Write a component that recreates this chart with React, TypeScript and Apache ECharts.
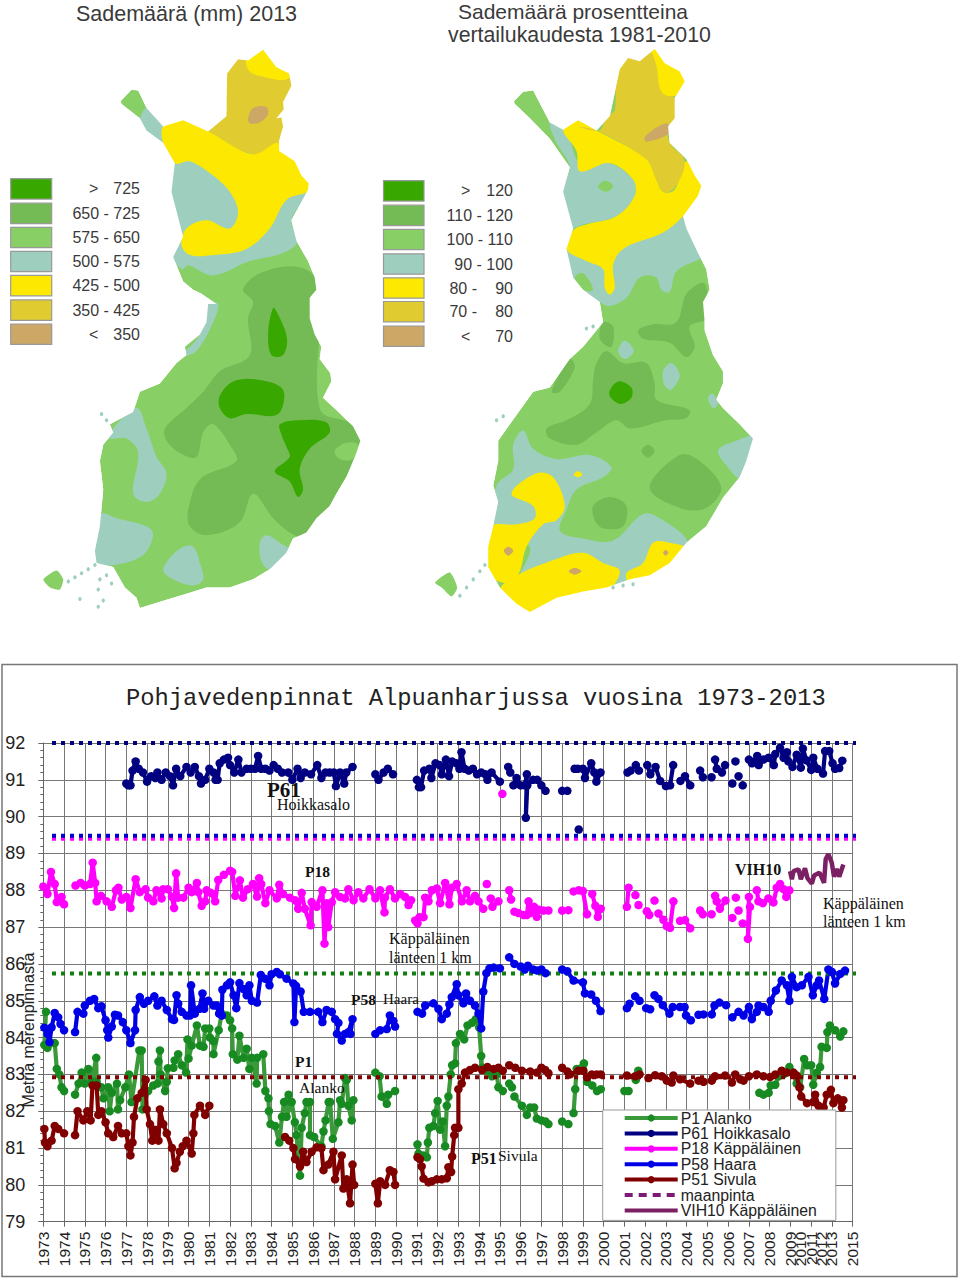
import React, { useEffect, useRef } from "react";
import * as echarts from "echarts";

type Pair = [number, number];
type Seg = Pair[];

const yearLabels = ["1973","1974","1975","1976","1977","1978","1979","1980","1981","1982","1983","1984","1985","1986","1987","1988","1989","1990","1991","1992","1993","1994","1995","1996","1997","1998","1999","2000","2001","2002","2003","2004","2005","2006","2007","2008","2009","2010","2011","2012","2013","2014","2015"];

const p1: Seg[] = [
  [[1973.13,84.7],[1973.05,83.8],[1973.2,83.72],[1973.55,83.85],[1973.65,83.15],[1973.77,83],[1973.88,82.65],[1974,82.55]],
  [[1974.53,82.45],[1974.7,82.75],[1974.85,83.05],[1975,82.75],[1975.17,83.15],[1975.33,82.8],[1975.55,83.45],[1975.57,82.8],[1975.8,82.65],[1975.9,82.35],[1976.13,82.65],[1976.2,82],[1976.3,82.5],[1976.55,82.75],[1976.6,82.05],[1976.7,82.3],[1976.95,82.65],[1977.13,83],[1977.25,82.25],[1977.63,83.65],[1977.74,83.65],[1977.78,82.05],[1978.05,82.55],[1978.3,82.7],[1978.5,82.75],[1978.55,83.35],[1978.62,83.65],[1978.65,83],[1978.87,82.55],[1978.95,82.8],[1979,83.17],[1979.27,83.18],[1979.33,83.38],[1979.5,83.55],[1979.67,83.25],[1979.88,83.05],[1979.95,83.95],[1980,83.43],[1980.15,83.78],[1980.4,84.33],[1980.55,83.78],[1980.72,83.75],[1980.8,84.25],[1981,84.25],[1981.03,84],[1981.2,83.9],[1981.2,83.55],[1981.45,84.2],[1981.6,84.65],[1981.85,84.6],[1982,84.47],[1982.1,84.25],[1982.13,83.55],[1982.35,83.4],[1982.45,84.05],[1982.65,83.45],[1982.8,83.7],[1982.93,83.15],[1983.05,83.45],[1983.28,82.75],[1983.3,83.45],[1983.6,83.55],[1983.7,82.55],[1983.85,82.35],[1983.87,82],[1983.95,81.65],[1984.17,81.6],[1984.37,81.15],[1984.5,81.85],[1984.6,82.25],[1984.82,82.45],[1984.72,81.85],[1984.97,82.25],[1985.12,81.7],[1985.2,81.35],[1985.37,80.25],[1985.45,81.55],[1985.6,81.95],[1985.68,82.25],[1985.85,82.25],[1985.85,81.35],[1986.05,81.3],[1986.4,81.05],[1986.5,81.45],[1986.6,81.75],[1986.75,82.25],[1986.82,82.25],[1986.95,81.25],[1987.22,81.7],[1987.3,82.3],[1987.38,82.2],[1987.54,82.9],[1987.62,82.85],[1987.7,82.15],[1987.86,81.75],[1987.94,82.3]],
  [[1989,83.05],[1989.2,82.95],[1989.3,82.4],[1989.55,82.2],[1989.62,82.45],[1989.95,82.55]],
  [[1991.03,81.1],[1991.08,80.85],[1991.32,80.8],[1991.48,80.75],[1991.53,81.15],[1991.6,81.55],[1991.8,81.6],[1991.88,81.95],[1992,82.28],[1992.12,81.5],[1992.24,81.72],[1992.36,81.05],[1992.44,82.15],[1992.52,82.4],[1992.63,83],[1992.7,83.25],[1992.84,83.3],[1992.88,83.85],[1993.08,84.1],[1993.28,83.95],[1993.44,84.33],[1993.65,84.4],[1993.84,84.5],[1994,84.28],[1994.1,83.5],[1994.14,83.18],[1994.37,83.1],[1994.62,82.95],[1994.85,83],[1994.93,82.65],[1995.14,82.55]],
  [[1995.45,82.75],[1995.58,82.65]],
  [[1995.7,82.4],[1996.06,82.15],[1996.3,81.9],[1996.46,82.1],[1996.65,82.1],[1996.78,81.8],[1997,81.75],[1997.2,81.72],[1997.34,81.65]],
  [[1998,81.72],[1998.3,81.65]],
  [[1998.55,81.95],[1998.63,82.6],[1998.7,83.15],[1999.05,83.3],[1999.2,82.8],[1999.45,82.7],[1999.68,82.55],[1999.86,82.6]],
  [[2001,82.55],[2001.2,82.55]],
  [[2001.55,82.85],[2001.67,83.1]],
  [[2007.5,82.5],[2007.7,82.45],[2007.95,82.5],[2008.05,82.7],[2008.27,82.72],[2008.43,82.95],[2008.67,83],[2008.95,83.2],[2009.15,83],[2009.3,82.75],[2009.47,82.65],[2009.66,83.42],[2009.8,83.25],[2010,83.25],[2010.1,82.72],[2010.27,83.05],[2010.43,83.2],[2010.5,83.75],[2010.75,83.72],[2010.78,84.15],[2010.9,84.33],[2011.15,84.2],[2011.4,84.03],[2011.55,84.17]],
];

const p61: Seg[] = [
  [[1977,90.9],[1977.1,90.85],[1977.2,90.85],[1977.3,91.25],[1977.45,91.5],[1977.6,91.3],[1977.8,91.2],[1978,90.95],[1978.2,91.1],[1978.4,91.05],[1978.5,91.2],[1978.7,91],[1978.9,91.2],[1979.1,91.1],[1979.25,90.85],[1979.4,91.3],[1979.6,91.1],[1979.9,91.35],[1980.1,91.2],[1980.3,91.35],[1980.5,91.1],[1980.6,90.9],[1980.8,91],[1981,91.3],[1981.2,91.2],[1981.3,91],[1981.4,91],[1981.5,91.45],[1981.7,91.55],[1981.9,91.6],[1982,91.4],[1982.2,91.2],[1982.4,91.55],[1982.55,91.2],[1982.8,91.3],[1983,91.3],[1983.2,91.3],[1983.35,91.65],[1983.5,91.3],[1983.7,91.3],[1983.9,91.25],[1984.1,91.4],[1984.3,91.3],[1984.5,91.2],[1984.8,91.2],[1985,91],[1985.25,91.3],[1985.4,91.05],[1985.6,91.2],[1985.9,91.15],[1986.2,91.4],[1986.4,91.05],[1986.6,91.2],[1986.8,91.2],[1987,91.2],[1987.1,90.83],[1987.3,91.2],[1987.5,90.9],[1987.6,91.2],[1987.9,91.35]],
  [[1989,91.15],[1989.15,91],[1989.4,91.2],[1989.6,91.3],[1989.85,91.15]],
  [[1991,91],[1991.1,90.8],[1991.2,90.8],[1991.35,91.25],[1991.6,91.3],[1991.7,91.05],[1991.9,91.45],[1992.1,91.4],[1992.2,91.15],[1992.4,91.55],[1992.55,91.1],[1992.7,91.5],[1992.9,91.45],[1993.05,91.3],[1993.15,91.75],[1993.3,91.3],[1993.5,91.25],[1993.7,91.3],[1993.9,91.15],[1994.1,91.2],[1994.3,91.15],[1994.4,91],[1994.6,91.2],[1995,90.95]],
  [[1995.4,91.35],[1995.5,91.2]],
  [[1995.65,90.85],[1995.8,91.05],[1996,90.85],[1996.2,90.85],[1996.3,91.15],[1996.25,89.97],[1996.32,90.85],[1996.6,91],[1996.8,91],[1997,90.85],[1997.2,90.7]],
  [[1998,90.7],[1998.25,90.7]],
  [[1998.6,91.3],[1998.75,91.3]],
  [[1998.8,89.65]],
  [[1999,91.3],[1999.1,91.05],[1999.4,91.45],[1999.55,91.2],[1999.65,90.95],[1999.85,91.2]],
  [[2001.15,91.2],[2001.3,91.25]],
  [[2001.55,91.4],[2001.7,91.25]],
  [[2002.1,91.4],[2002.25,91.15],[2002.5,91.35],[2002.72,90.97],[2003,90.83],[2003.2,90.85],[2003.35,91.4]],
  [[2003.7,90.97],[2003.92,91.1],[2004.17,90.85]],
  [[2004.65,91.25],[2004.78,91.07]],
  [[2005.2,91.07]],
  [[2005.37,91.55],[2005.45,91.3],[2005.7,91.2],[2005.85,91.4]],
  [[2006.2,90.9]],
  [[2006.35,91.5]],
  [[2006.5,91.1]],
  [[2006.7,90.85]],
  [[2007,91.55],[2007.15,91.45],[2007.4,91.65],[2007.47,91.4],[2007.7,91.55],[2007.95,91.6],[2008.2,91.4],[2008.27,91.7],[2008.5,91.87],[2008.67,91.6],[2008.83,91.75],[2008.9,91.5],[2009.1,91.35],[2009.3,91.68],[2009.5,91.33],[2009.6,91.85],[2009.77,91.53],[2010,91.27],[2010.1,91.6],[2010.3,91.3],[2010.57,91.17],[2010.67,91.78],[2010.87,91.78],[2011.03,91.45],[2011.15,91.3],[2011.35,91.32],[2011.5,91.52]],
];

const p18: Seg[] = [
  [[1973,88.1],[1973.2,87.9],[1973.37,88.5],[1973.55,88.17],[1973.65,87.68],[1973.88,87.82],[1974,87.62]],
  [[1974.55,88.13],[1974.8,88.2],[1975,88.13],[1975.25,88.17],[1975.38,88.75],[1975.5,88.2],[1975.57,87.7],[1975.78,87.85],[1976.05,87.7],[1976.3,87.55],[1976.5,88],[1976.62,88.07],[1976.78,87.75],[1977,87.82],[1977.2,87.52],[1977.45,88.3],[1977.65,87.95],[1977.93,88.03],[1978.05,87.8],[1978.3,87.7],[1978.45,88],[1978.7,87.78],[1978.78,88.03],[1979,88.03],[1979.2,87.82],[1979.3,87.52],[1979.4,88.46],[1979.5,87.8],[1979.75,87.8],[1980,88.07],[1980.15,87.95],[1980.4,88.2],[1980.47,87.95],[1980.63,87.58],[1980.8,87.7],[1980.87,88],[1981.07,87.93],[1981.28,87.7],[1981.43,88.28],[1981.7,88.42],[1982,88.53],[1982.1,88.5],[1982.25,87.85],[1982.47,88.27],[1982.62,87.8],[1982.85,88.03],[1983.1,88.17],[1983.3,87.83],[1983.4,88.33],[1983.5,88.17],[1983.7,87.65],[1983.9,88],[1984.25,87.78],[1984.37,88.15],[1984.55,87.9],[1984.88,87.8],[1985.13,87.73],[1985.28,87.5],[1985.45,87.93],[1985.6,87.5],[1985.88,87.05],[1985.93,87.68],[1986.17,87.55],[1986.45,88],[1986.55,86.55],[1986.65,87.65],[1986.73,87],[1986.9,87.68],[1987.06,87.95],[1987.3,87.82],[1987.54,87.78],[1987.7,88.03],[1987.95,87.73],[1988.18,87.95],[1988.42,87.78],[1988.72,88.03],[1989,87.78],[1989.23,88],[1989.44,87.4],[1989.46,87.8],[1989.7,88.03],[1989.95,87.78],[1990.2,87.9],[1990.43,87.82],[1990.6,87.6],[1990.72,87.73]],
  [[1990.92,87.18],[1991.03,87.1],[1991.13,87.27],[1991.32,87.27],[1991.4,87.8],[1991.56,87.7],[1991.72,88],[1991.96,88.05],[1992.12,87.65],[1992.36,88.2],[1992.57,87.62],[1992.68,88.07],[1992.92,88.17],[1993.17,87.7],[1993.4,88],[1993.56,87.7],[1993.8,87.85],[1993.97,87.7],[1994.2,87.5]],
  [[1994.37,88.17]],
  [[1994.56,87.78],[1994.64,87.55],[1994.93,87.7]],
  [[1995.12,90.62]],
  [[1995.45,88],[1995.54,87.75]],
  [[1995.7,87.42],[1995.9,87.38],[1996.14,87.33],[1996.3,87.33],[1996.38,87.7],[1996.46,87.38],[1996.65,87.55],[1996.78,87.28],[1996.9,87.47],[1997.1,87.45],[1997.34,87.45]],
  [[1998,87.45],[1998.3,87.46]],
  [[1998.55,87.97],[1998.8,88],[1999,87.98],[1999.2,87.35]],
  [[1999.45,87.9],[1999.6,87.58],[1999.72,87.28],[1999.86,87.5]],
  [[2001.12,87.55],[2001.2,88.07]],
  [[2001.53,87.87]],
  [[2001.68,87.6]],
  [[2002.08,87.43],[2002.2,87.33]],
  [[2002.45,87.72]],
  [[2002.64,87.37],[2002.88,87.2],[2003.04,87.03],[2003.2,86.98],[2003.36,87.7]],
  [[2003.68,87.17],[2003.92,87.19],[2004.17,86.97]],
  [[2004.65,87.45],[2004.78,87.35]],
  [[2005.2,87.35]],
  [[2005.37,87.85],[2005.45,87.7],[2005.6,87.5],[2005.87,87.72]],
  [[2006.2,87.25]],
  [[2006.37,87.8]],
  [[2006.5,87.45]],
  [[2006.7,87.1]],
  [[2007,87.82],[2006.95,86.68],[2007.05,87.55]],
  [[2007.38,88],[2007.46,87.7],[2007.67,87.65],[2007.94,87.78],[2008.18,87.67],[2008.34,88.07],[2008.5,88.17],[2008.67,88.03],[2008.8,87.82],[2008.95,88]],
];

const p58: Seg[] = [
  [[1973.05,84.27],[1973.2,84.1],[1973.3,83.88],[1973.4,84.28],[1973.55,84.67],[1973.72,84.55],[1973.83,84.37],[1974,84.2]],
  [[1974.53,84.15],[1974.65,84.7],[1974.93,84.65],[1975,84.87],[1975.25,85],[1975.45,85.05],[1975.65,84.8],[1975.8,84.85],[1976,84.47],[1976.08,84.2],[1976.13,84],[1976.3,84.3],[1976.45,84.62],[1976.6,84.6],[1976.83,84.42],[1977,84.2],[1977.2,83.85],[1977.42,84.2],[1977.45,84.75],[1977.65,85.1],[1977.85,84.92],[1978.05,85],[1978.35,85.12],[1978.5,84.87],[1978.7,85],[1978.95,84.75],[1979.2,84.5],[1979.3,84.48],[1979.42,85.15],[1979.5,84.92],[1979.67,84.7],[1979.9,84.6],[1980.07,84.6],[1980.12,85.42],[1980.3,84.65],[1980.52,84.78],[1980.67,85.2],[1980.75,84.78],[1980.95,85],[1981.2,84.87],[1981.35,84.87],[1981.47,84.65],[1981.6,84.6],[1981.63,85.3],[1981.85,85.42],[1982,85.5],[1982.17,85.15],[1982.3,84.8],[1982.45,85.48],[1982.65,85.32],[1982.8,85.15],[1982.93,85.42],[1983.05,85],[1983.3,84.95],[1983.48,85.7],[1983.68,85.6],[1983.9,85.42],[1984,85.72],[1984.25,85.78],[1984.4,85.72],[1984.72,85.6],[1985.05,85.47],[1985.1,84.42],[1985.18,85.4],[1985.4,85.25],[1985.55,84.7],[1985.85,84.7],[1986.25,84.7],[1986.45,84.42],[1986.65,84.75],[1986.9,84.7],[1987.06,84.5],[1987.22,84.4],[1987.15,84.1],[1987.38,83.92],[1987.54,84.1],[1987.7,84.15],[1987.9,84.5],[1987.8,84.1]],
  [[1989,84.1],[1989.23,84.2],[1989.55,84.23],[1989.7,84.6],[1989.87,84.45],[1989.95,84.3]],
  [[1991.03,84.7],[1991.25,84.65],[1991.4,84.87],[1991.8,84.93],[1992.04,84.78],[1992.2,84.5],[1992.44,84.65],[1992.57,84.9],[1992.68,85.1],[1992.92,85.45],[1993,85.15],[1993.24,84.93],[1993.37,85.2],[1993.56,85],[1993.8,84.87],[1993.97,84.65],[1994.1,84.25],[1994.2,85.25],[1994.35,85.75],[1994.5,85.88],[1994.7,85.9],[1995,85.88]],
  [[1995.45,86.18],[1995.7,86],[1996,85.93],[1996.2,85.85],[1996.35,85.95],[1996.6,85.85],[1996.8,85.82],[1997,85.85],[1997.2,85.75]],
  [[1998,85.85],[1998.25,85.8],[1998.55,85.55],[1999,85.5],[1999.1,85.2],[1999.4,85.17],[1999.63,85],[1999.85,84.72]],
  [[2001.12,84.8],[2001.25,84.92]],
  [[2001.52,85.12],[2001.73,85]],
  [[2002.05,84.8],[2002.24,84.77]],
  [[2002.45,85.15],[2002.64,85.05],[2002.85,84.88],[2003.17,84.65],[2003.33,84.83],[2003.68,84.83],[2003.9,84.83],[2003.97,84.6],[2004.2,84.47]],
  [[2004.57,84.62],[2004.81,84.63]],
  [[2005.21,84.63],[2005.34,84.87],[2005.58,84.95],[2005.9,84.88]],
  [[2006.2,84.55],[2006.5,84.7],[2006.74,84.6],[2007,84.83],[2007.14,84.5],[2007.38,84.7],[2007.46,84.87],[2007.7,84.83],[2007.95,84.7],[2008.05,85],[2008.3,85.28],[2008.58,85.55],[2008.83,85.42],[2008.95,85],[2009.07,85.65],[2009.3,85.37],[2009.55,85.42],[2009.87,85.65],[2010.08,85.15],[2010.27,85.42],[2010.38,85.55],[2010.63,85.05],[2010.83,85.85],[2011,85.78],[2011.15,85.47],[2011.4,85.73],[2011.63,85.82]],
];

const p51: Seg[] = [
  [[1973.05,81.52],[1973.08,81.15],[1973.2,81.05],[1973.4,81.2],[1973.55,81.6],[1973.72,81.52],[1974,81.4]],
  [[1974.53,81.35],[1974.65,82],[1974.93,81.75],[1975.12,82],[1975.28,81.75],[1975.37,82.7],[1975.57,82.7],[1975.65,81.9],[1975.8,82],[1976,81.7],[1976.13,81.4],[1976.37,81.3],[1976.6,81.6],[1976.78,81.4],[1977,81.4],[1977.1,81.05],[1977.2,80.8],[1977.3,81.15],[1977.37,81.85],[1977.53,82.35],[1977.74,82.5],[1977.93,82.85],[1977.98,82.05],[1978.14,81.65],[1978.25,81.2],[1978.38,81.5],[1978.55,81.2],[1978.62,82.05],[1978.78,81.65],[1978.95,81.4],[1979.2,81],[1979.33,80.45],[1979.42,80.6],[1979.58,80.9],[1979.72,81.05],[1979.9,81.2],[1980.15,80.85],[1980.23,81.4],[1980.28,81.9],[1980.55,82.15],[1980.8,81.9],[1981,82.15]],
  [[1984.65,81.3],[1984.85,81.2],[1985.05,81],[1985.13,80.7],[1985.37,80.5],[1985.52,80.9],[1985.68,80.62],[1985.93,80.9],[1986.17,81.02],[1986.4,81],[1986.5,80.4],[1986.73,80.55],[1986.98,80.9],[1987.06,80.15],[1987.38,80.8],[1987.46,79.9],[1987.62,80.15],[1987.78,79.5],[1987.9,80.55],[1987.98,80]],
  [[1989,80.03],[1989.12,79.5],[1989.23,80.1],[1989.47,80],[1989.7,80.4],[1989.87,80.35],[1989.95,80]],
  [[1991.03,80.75],[1991.15,80.7],[1991.23,80.5],[1991.32,80.17],[1991.56,80.07],[1991.72,80.1],[1991.96,80.15],[1992.2,80.15],[1992.44,80.18],[1992.52,80.48],[1992.65,80.35],[1992.7,80.77],[1992.8,81.35],[1992.84,81.55],[1993,81.55],[1993,82.6],[1993.16,82.75],[1993.32,83.05],[1993.56,83.12],[1993.8,83.18],[1994.14,83.12],[1994.4,83.2],[1994.7,83.15],[1994.93,83.18],[1995.14,83.1]],
  [[1995.45,83.25],[1995.74,83.18],[1996.06,83.1],[1996.46,83.08],[1996.78,83.05],[1997,83.18],[1997.18,83.12],[1997.34,83.03]],
  [[1998,83.18],[1998.25,83.08],[1998.38,83],[1998.78,83.1],[1999.02,83.1],[1999.2,82.92],[1999.43,83],[1999.67,83],[1999.86,83]],
  [[2001.12,82.97],[2001.52,82.95],[2001.73,83]],
  [[2002.16,82.9],[2002.48,82.98],[2002.8,82.95],[2003.04,82.83],[2003.28,82.78],[2003.36,82.97],[2003.68,82.87],[2004.17,82.75]],
  [[2004.57,82.83],[2004.81,82.8]],
  [[2005.21,82.83],[2005.37,82.95],[2005.85,82.97]],
  [[2006.18,82.78],[2006.34,83],[2006.58,82.87],[2006.74,82.83],[2007,82.95],[2007.38,83],[2007.7,82.95],[2008.02,82.93],[2008.27,83],[2008.58,83.1],[2008.83,83.05],[2009.15,83.05],[2009.3,82.97],[2009.43,82.65],[2009.52,82.4],[2009.8,82.22],[2010.1,82.25],[2010.19,82.45],[2010.35,82.15],[2010.6,82.1],[2010.75,82.45],[2010.95,82.58],[2011.07,82.22],[2011.28,82.35],[2011.48,82.1],[2011.55,82.3]],
];

const vih10: Pair[] = [[2008.98,88.52],[2009.07,88.3],[2009.15,88.52],[2009.39,88.57],[2009.5,88.3],[2009.7,88.6],[2009.82,88.33],[2010.03,88.18],[2010.14,88.4],[2010.4,88.48],[2010.62,88.2],[2010.7,88.85],[2010.83,88.98],[2010.99,88.75],[2011.1,88.37],[2011.23,88.58],[2011.35,88.37],[2011.55,88.7]];

const groundSpan = [1973.42, 2012.85];
const groundP61 = 92;
const groundP58Blue = 89.48;
const groundP18 = 89.4;
const groundP1 = 85.74;
const groundP51 = 82.92;

const legendNames = ["P1 Alanko","P61 Hoikkasalo","P18 Käppäläinen","P58 Haara","P51 Sivula","maanpinta","VIH10 Käppäläinen"];

const COL = { g1: "#38a800", g2: "#74bb55", g3: "#88d066", teal: "#9ecfbe", yel: "#fce800", gold: "#e0cc30", tan: "#cca766" };

const map1Outline = [[362,248],[395,220],[415,222],[440,265],[490,310],[550,295],[625,322],[680,285],[682,180],[715,145],[745,148],[790,122],[830,165],[868,180],[875,210],[850,250],[852,268],[830,290],[845,288],[850,310],[838,345],[838,370],[885,395],[905,430],[927,450],[925,465],[875,540],[890,590],[925,640],[945,680],[950,710],[930,730],[930,780],[945,820],[965,850],[960,880],[992,915],[995,935],[970,975],[1010,1005],[1060,1045],[1082,1080],[1070,1110],[1040,1170],[1010,1210],[990,1240],[950,1270],[920,1305],[880,1320],[860,1355],[810,1395],[760,1420],[690,1440],[620,1440],[560,1455],[500,1470],[420,1490],[410,1465],[375,1440],[340,1390],[290,1380],[285,1350],[300,1290],[310,1200],[300,1130],[310,1090],[340,1060],[330,1040],[400,1010],[420,960],[480,940],[530,890],[560,870],[555,850],[600,820],[620,790],[625,745],[650,745],[605,720],[580,710],[550,690],[520,630],[550,580],[515,470],[525,400],[490,350],[440,320],[420,290],[365,255]];
const map2Outline = [[432,248],[460,225],[490,222],[540,300],[580,318],[625,295],[680,320],[720,285],[750,170],[775,142],[810,150],[855,120],[885,155],[930,175],[945,200],[915,240],[915,290],[895,310],[900,350],[950,390],[975,430],[995,455],[985,480],[940,530],[950,560],[985,620],[1010,660],[1020,710],[1000,740],[1005,790],[1005,810],[1030,870],[1060,910],[1060,940],[1040,980],[1060,1000],[1110,1040],[1150,1075],[1130,1130],[1110,1170],[1060,1220],[1010,1290],[950,1330],[900,1380],[840,1410],[780,1420],[710,1440],[640,1450],[560,1465],[480,1500],[440,1480],[390,1440],[355,1390],[355,1340],[370,1290],[385,1230],[370,1190],[385,1130],[385,1080],[420,1040],[490,960],[540,950],[600,880],[640,850],[700,790],[690,740],[640,710],[610,680],[590,610],[610,560],[580,470],[600,410],[540,340],[480,290],[435,255]];

const map1Blobs: [string, number[][]][] = [
  [COL.gold, [[650,130],[880,130],[900,280],[850,380],[760,378],[625,322],[680,270]]],
  [COL.yel, [[740,148],[800,100],[880,170],[860,195],[800,190],[750,175]]],
  [COL.tan, [[745,290],[760,265],[800,262],[805,280],[780,300],[750,302]]],
  [COL.teal, [[440,265],[490,310],[490,350],[420,310]]],
  [COL.teal, [[520,390],[640,380],[940,440],[875,540],[895,590],[850,620],[750,640],[640,675],[565,650],[545,660],[515,620],[510,470]]],
  [COL.yel, [[490,310],[550,295],[625,322],[760,378],[838,350],[890,395],[945,450],[925,470],[860,490],[810,560],[740,610],[640,625],[570,625],[545,600],[560,560],[620,540],[690,560],[715,520],[690,470],[640,430],[570,395],[525,400],[490,350]]],
  [COL.teal, [[620,745],[655,745],[640,790],[590,860],[550,870],[600,820]]],
  [COL.teal, [[330,1060],[410,1000],[440,1050],[470,1120],[500,1160],[480,1210],[440,1230],[400,1210],[415,1110],[380,1075],[330,1075]]],
  [COL.teal, [[300,1260],[350,1270],[440,1290],[460,1310],[430,1360],[340,1385],[290,1380],[280,1340]]],
  [COL.teal, [[490,1395],[540,1345],[580,1340],[600,1380],[610,1420],[580,1435],[520,1420]]],
  [COL.teal, [[780,1330],[800,1312],[840,1330],[870,1350],[810,1395],[785,1375]]],
  [COL.g2, [[495,1050],[560,1000],[610,960],[660,910],[750,870],[745,780],[760,740],[730,710],[780,670],[900,655],[960,700],[960,1000],[1060,1040],[1090,1080],[1010,1210],[990,1240],[920,1315],[880,1310],[820,1270],[760,1210],[720,1280],[620,1312],[570,1290],[565,1250],[600,1175],[710,1130],[690,1090],[640,1040],[610,1060],[590,1120],[540,1110],[500,1080]]],
  [COL.g3, [[1005,1105],[1040,1085],[1075,1090],[1060,1125],[1020,1125]]],
  [COL.g1, [[820,755],[835,770],[862,830],[850,870],[815,870],[805,820]]],
  [COL.g1, [[660,970],[700,935],[770,930],[850,955],[835,1015],[740,1015],[690,1025],[660,1000]]],
  [COL.g1, [[840,1040],[900,1030],[980,1035],[990,1060],[930,1100],[900,1150],[910,1200],[895,1218],[870,1180],[825,1155],[870,1120],[860,1095],[845,1065]]],
];
const map2Blobs: [string, number[][]][] = [
  [COL.teal, [[580,610],[680,590],[940,530],[985,620],[1000,630],[920,665],[900,715],[875,710],[860,680],[810,680],[770,730],[720,750],[690,740],[640,710],[610,680]]],
  [COL.teal, [[540,300],[590,325],[630,400],[720,400],[790,440],[795,480],[740,530],[640,550],[590,560],[570,470],[600,410],[560,350]]],
  [COL.g3, [[685,458],[705,443],[730,455],[710,470]]],
  [COL.yel, [[580,318],[625,295],[680,320],[830,390],[860,440],[880,470],[915,465],[950,395],[995,455],[985,480],[940,530],[880,570],[760,610],[730,650],[735,705],[720,722],[705,705],[700,660],[650,640],[590,610],[610,565],[650,550],[740,530],[795,480],[790,440],[720,400],[630,420],[620,370]]],
  [COL.gold, [[625,310],[690,320],[710,285],[735,270],[740,170],[775,120],[880,120],[880,225],[915,240],[915,290],[895,310],[900,350],[945,395],[915,460],[880,470],[855,430],[830,390],[680,320]]],
  [COL.yel, [[840,100],[950,160],[955,205],[915,235],[875,225],[860,160]]],
  [COL.tan, [[825,335],[890,302],[902,325],[830,348]]],
  [COL.g3, [[615,680],[640,670],[670,710],[640,710]]],
  [COL.g2, [[805,810],[850,795],[920,790],[950,720],[1005,695],[1010,780],[960,800],[975,850],[950,875],[900,840],[820,830]]],
  [COL.g2, [[680,890],[710,860],[760,890],[830,890],[855,940],[860,980],[960,1005],[950,1025],[890,1030],[780,1050],[740,1030],[680,1060],[620,1090],[540,1075],[530,1050],[590,1030],[660,990],[670,930]]],
  [COL.g2, [[700,790],[730,800],[725,850],[690,830]]],
  [COL.g2, [[600,880],[615,900],[570,960],[545,960]]],
  [COL.g1, [[718,965],[745,935],[785,950],[785,975],[750,990]]],
  [COL.teal, [[745,860],[765,835],[792,860],[765,880]]],
  [COL.teal, [[880,910],[905,890],[930,920],[905,955],[885,945]]],
  [COL.teal, [[1015,975],[1030,965],[1045,990],[1030,1000]]],
  [COL.teal, [[1045,1105],[1100,1080],[1160,1070],[1110,1170],[1080,1150]]],
  [COL.g2, [[815,1105],[835,1090],[855,1105],[835,1122]]],
  [COL.g2, [[840,1195],[930,1115],[990,1130],[1055,1195],[1010,1245],[930,1245]]],
  [COL.g2, [[670,1240],[720,1218],[770,1240],[760,1290],[700,1295],[675,1275]]],
  [COL.teal, [[430,1090],[460,1055],[490,1100],[560,1125],[660,1115],[725,1145],[700,1170],[620,1200],[590,1250],[570,1300],[640,1320],[730,1325],[820,1260],[870,1270],[955,1330],[900,1380],[830,1410],[780,1430],[450,1430],[480,1340],[370,1290],[380,1190],[430,1150]]],
  [COL.yel, [[425,1210],[500,1160],[550,1170],[585,1240],[560,1275],[520,1285],[470,1340],[450,1400],[420,1430],[340,1400],[345,1340],[360,1290],[440,1285],[495,1270],[490,1240]]],
  [COL.yel, [[430,1415],[560,1370],[640,1355],[700,1380],[750,1400],[710,1450],[560,1480],[470,1520],[390,1450]]],
  [COL.yel, [[770,1405],[820,1380],[850,1330],[900,1330],[950,1345],[900,1390],[840,1415],[780,1430]]],
  [COL.yel, [[612,1163],[625,1155],[637,1163],[625,1170]]],
  [COL.tan, [[402,1350],[415,1340],[430,1350],[415,1362]]],
  [COL.tan, [[597,1400],[615,1392],[635,1400],[615,1408]]],
  [COL.tan, [[880,1355],[888,1348],[896,1355],[888,1362]]],
];
const map1Islands: [string, number[][]][] = [[COL.g3, [[130,1420],[170,1398],[190,1420],[180,1445],[150,1440]]]];
const map2Islands: [string, number[][]][] = [[COL.g3, [[195,1428],[240,1403],[262,1440],[245,1462],[215,1440]]]];
const map1Specks = [[205,1425],[225,1415],[245,1405],[265,1395],[285,1385],[305,1015],[320,1030],[300,1420],[320,1410],[335,1430],[240,1468],[310,1472],[295,1487],[295,1445]];
const map2Specks = [[270,1460],[290,1440],[310,1420],[330,1400],[345,1385],[730,1440],[760,1435],[790,1432],[380,1030],[400,1020],[650,805],[670,800]];

const legend1 = [[">", "725"],["650 - 725", ""],["575 - 650", ""],["500 - 575", ""],["425 - 500", ""],["350 - 425", ""],["<", "350"]];
const legend2 = [[">", "120"],["110 - 120", ""],["100 - 110", ""],["90 - 100", ""],["80 -", "90"],["70 -", "80"],["<", "70"]];
const legendColors = [COL.g1, COL.g2, COL.g3, COL.teal, COL.yel, COL.gold, COL.tan];

const MAP_SY = 0.408;

const maskPath = (o: number[][], b: number[]) =>
  `M${b[0]} ${b[1]}L${b[0]} ${b[3]}L${b[2]} ${b[3]}L${b[2]} ${b[1]}Z` +
  "M" + o.map((p) => p.join(" ")).join("L") + "Z";
echarts.graphic.registerShape("mapMask1", echarts.graphic.extendPath(maskPath(map1Outline, [100, 80, 1130, 1530]), {}));
echarts.graphic.registerShape("mapMask2", echarts.graphic.extendPath(maskPath(map2Outline, [170, 80, 1190, 1540]), {}));

const flatten = (segs: Seg[]) => {
  const out: any[] = [];
  segs.forEach((s, i) => {
    if (i > 0) out.push([s[0][0], null]);
    s.forEach((p) => out.push(p));
  });
  return out;
};

const labelAt = (v: number) => {
  const idx = v <= 2009 ? (Number.isInteger(v) ? v - 1973 : -1) : 36 + (v - 2009) * 2;
  return yearLabels[idx] ?? "";
};

const dataSeries = (name: string, segs: Seg[], line: string, dot: string, z: number) => ({
  name, type: "line", data: flatten(segs), z, connectNulls: false,
  symbol: "circle", symbolSize: 8.5, showSymbol: true, showAllSymbol: true,
  lineStyle: { color: line, width: 4.2 }, itemStyle: { color: dot },
});
const groundSeries = (name: string, value: number, color: string, z: number) => ({
  name, type: "line", clip: false, z, symbol: "none",
  data: [[groundSpan[0], value], [groundSpan[1], value]],
  lineStyle: { color, width: 4, type: [4, 5] }, itemStyle: { color },
});

const label = (text: string, x: number, y: number, size: number, bold = false) => ({
  type: "text", x, y, z: 20,
  style: { text, fontFamily: "Liberation Serif", fontSize: size, fontWeight: bold ? "bold" : "normal", fill: "#111", textVerticalAlign: "middle" },
});
const sans = (text: string, x: number, y: number, size: number, align = "left", fill = "#3a3a3a", weight = "normal") => ({
  type: "text", x, y, z: 5,
  style: { text, fontFamily: "Liberation Sans", fontSize: size, fontWeight: weight, fill, textAlign: align, textVerticalAlign: "middle" },
});
const blobs = (list: [string, number[][]][], smooth = 0.35) =>
  list.map(([fill, points]) => ({ type: "polygon", shape: { points, smooth }, style: { fill } }));
const specks = (pts: number[][], fill: string) =>
  pts.map(([cx, cy]) => ({ type: "circle", shape: { cx, cy, r: 5 }, style: { fill } }));

const mapGroup = (x: number, base: number[][], list: [string, number[][]][], mask: string, islands: [string, number[][]][], sp: number[][]) => ({
  type: "group", x, y: 0, scaleX: 1 / 3, scaleY: MAP_SY, z: 1,
  children: [
    { type: "polygon", shape: { points: base }, style: { fill: COL.g3 } },
    ...blobs(list),
    { type: mask, style: { fill: "#fff" } },
    ...blobs(islands, 0.2),
    ...specks(sp, COL.teal),
  ],
});

const legendBoxes = (x: number, w: number, ys: number[], rightX: number, symX: number, rows: string[][]) => {
  const out: any[] = [];
  ys.forEach((y, i) => {
    out.push({ type: "rect", z: 5, shape: { x, y, width: w, height: 20.4 }, style: { fill: legendColors[i], stroke: "#999", lineWidth: 1.2 } });
    const [a, b] = rows[i];
    const cy = y + 10.2;
    if (b === "") out.push(sans(a, rightX, cy, 16, "right"));
    else {
      out.push(sans(b, rightX, cy, 16, "right"));
      out.push(sans(a, a.length > 1 ? rightX - 36 : symX, cy, 16, a.length > 1 ? "right" : "left"));
    }
  });
  return out;
};

export default function App() {
  const ref = useRef<HTMLDivElement>(null);
  useEffect(() => {
    const chart = echarts.init(ref.current!, undefined, { renderer: "svg" });
    chart.setOption({
      animation: false,
      backgroundColor: "#fff",
      title: {
        text: "Pohjavedenpinnat Alpuanharjussa vuosina 1973-2013",
        left: 126, top: 686, padding: 0,
        textStyle: { fontFamily: "Liberation Mono", fontWeight: "normal", fontSize: 23.8, color: "#222" },
      },
      grid: { left: 43.3, right: 107.3, top: 743, bottom: 58.3 },
      xAxis: [
        {
          type: "value", min: 1973, max: 2012, interval: 1, position: "bottom",
          axisLine: { lineStyle: { color: "#666" }, onZero: false },
          axisTick: { show: true, length: 5, lineStyle: { color: "#666" } },
          axisLabel: { show: false },
          splitLine: { show: true, lineStyle: { color: "#777", width: 1 } },
        },
        {
          type: "value", min: 1973, max: 2012, interval: 0.5, position: "bottom",
          axisLine: { show: false }, axisTick: { show: false }, splitLine: { show: false },
          axisLabel: {
            show: true, rotate: 90, margin: 10, fontSize: 15.5, color: "#222", fontFamily: "Liberation Sans",
            formatter: (v: number) => labelAt(v), showMinLabel: true, showMaxLabel: true, hideOverlap: false,
          },
        },
      ],
      yAxis: {
        type: "value", min: 79, max: 92, interval: 1,
        axisLine: { show: true, onZero: false, lineStyle: { color: "#666" } },
        axisTick: { show: true, length: 5, lineStyle: { color: "#666" } },
        minorTick: { show: true, splitNumber: 5, length: 3, lineStyle: { color: "#666" } },
        axisLabel: { fontSize: 18, margin: 18, color: "#222", fontFamily: "Liberation Sans" },
        splitLine: { show: true, lineStyle: { color: "#777", width: 1 } },
      },
      legend: {
        show: true, orient: "vertical", left: 602.7, top: 1110, data: legendNames,
        backgroundColor: "#fff", borderColor: "#999", borderWidth: 1,
        padding: [0, 19, 2, 20], itemWidth: 53, itemHeight: 9, itemGap: -0.6,
        lineStyle: { width: 4 },
        textStyle: { fontFamily: "Liberation Sans", fontSize: 15.8, color: "#222", lineHeight: 15, padding: [0, 0, 0, -2] },
        z: 6,
      },
      series: [
        dataSeries("P1 Alanko", p1, "#3a9a3a", "#178a22", 2),
        dataSeries("P61 Hoikkasalo", p61, "#000080", "#000080", 3),
        dataSeries("P18 Käppäläinen", p18, "#ff00ff", "#ff00ff", 3),
        dataSeries("P58 Haara", p58, "#0000e6", "#0000e6", 3),
        groundSeries("maan P61", groundP61, "#00007f", 3),
        groundSeries("maan P18", groundP18, "#ff00ff", 3),
        groundSeries("maan P58", groundP58Blue, "#0000cc", 3),
        groundSeries("maan P1", groundP1, "#0f800f", 3),
        groundSeries("maan P51", groundP51, "#800000", 3),
        dataSeries("P51 Sivula", p51, "#800000", "#800000", 4),
        {
          name: "maanpinta", type: "line", data: [], symbol: "none",
          lineStyle: { color: "#7b1a7b", width: 4, type: [8, 6] }, itemStyle: { color: "rgba(0,0,0,0)" },
        },
        {
          name: "VIH10 Käppäläinen", type: "line", data: vih10, symbol: "none", z: 4,
          lineStyle: { color: "#7b2163", width: 4.5 }, itemStyle: { color: "rgba(0,0,0,0)" },
        },
      ],
      graphic: {
        elements: [
          { type: "rect", z: -1, shape: { x: 2, y: 664.5, width: 955, height: 612 }, style: { fill: "none", stroke: "#777", lineWidth: 1.5 } },
          mapGroup(0, map1Outline, map1Blobs, "mapMask1", map1Islands, map1Specks),
          mapGroup(370, map2Outline, map2Blobs, "mapMask2", map2Islands, map2Specks),
          sans("Sademäärä (mm) 2013", 76, 14, 21.5),
          sans("Sademäärä prosentteina", 458, 11, 21),
          sans("vertailukaudesta 1981-2010", 448, 35, 21.3),
          ...legendBoxes(10.7, 41, [178.7, 203.2, 227.3, 251.3, 275.4, 299.9, 324], 140, 89, legend1),
          ...legendBoxes(383.5, 40.5, [180.7, 205.2, 229.3, 253.8, 277.8, 301.5, 326], 513, 461, legend2),
          {
            type: "text", x: 28, y: 1030, rotation: Math.PI / 2, z: 20,
            style: { text: "Metria merenpinnasta", fontFamily: "Liberation Sans", fontSize: 16, fill: "#222", textAlign: "center", textVerticalAlign: "middle" },
          },
          label("P61", 267, 790, 21, true),
          label("Hoikkasalo", 277, 804, 16),
          label("P18", 305, 871, 15.5, true),
          label("VIH10", 735, 869, 16, true),
          label("Käppäläinen", 389, 938, 16),
          label("länteen 1 km", 389, 957, 16),
          label("Käppäläinen", 823, 903, 16),
          label("länteen 1 km", 823, 921, 16),
          label("P58", 351, 999, 15.5, true),
          label("Haara", 383, 999, 15),
          label("P1", 295, 1061, 15.5, true),
          label("Alanko", 299, 1087, 15.5),
          label("P51", 471, 1158, 16, true),
          label("Sivula", 498, 1155, 15.5),
        ],
      },
    });
    return () => chart.dispose();
  }, []);
  return <div ref={ref} style={{ position: "absolute", left: 0, top: 0, width: 960, height: 1280 }} />;
}
